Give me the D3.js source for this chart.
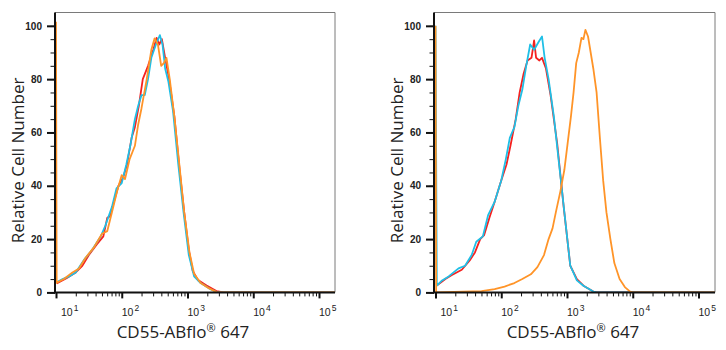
<!DOCTYPE html>
<html>
<head>
<meta charset="utf-8">
<script src="https://cdn.jsdelivr.net/npm/d3@7"></script>
<style>
  body { margin: 0; background: #fff; }
  svg { display: block; }
</style>
</head>
<body>
<script>
// Data: x as log10 of intensity, y as relative cell number
const leftRedX = [1.01, 1.16, 1.30, 1.40, 1.50, 1.62, 1.72, 1.78, 1.82, 1.87, 1.95, 2.02, 2.08, 2.15, 2.20, 2.26, 2.32, 2.40, 2.48, 2.53, 2.57, 2.61, 2.66, 2.72, 2.80, 2.88, 2.95, 3.02, 3.08, 3.16, 3.29, 3.44, 3.55, 5.25]
const leftRedY = [3.4, 5.3, 7.5, 10, 14, 18, 21, 28, 28.5, 33, 40, 43, 48, 58, 62, 70, 80, 85, 91, 95.5, 93, 95, 88, 80, 66, 46, 30, 16, 8, 4.6, 2.6, 0.5, 0, 0]

const leftCyanX = [1.01, 1.10, 1.20, 1.30, 1.42, 1.55, 1.68, 1.75, 1.85, 1.92, 2.00, 2.07, 2.13, 2.20, 2.25, 2.30, 2.35, 2.40, 2.45, 2.52, 2.58, 2.62, 2.66, 2.71, 2.78, 2.86, 2.94, 3.02, 3.10, 3.20, 3.35, 3.45, 5.25]
const leftCyanY = [3.8, 5, 6, 7.5, 12, 16, 21, 25, 32, 39, 41, 48, 55, 65, 70, 74, 74, 80, 88, 93, 96.5, 93, 84, 79, 68, 48, 30, 14, 6, 3.5, 1.2, 0, 0]

const leftOrangeX = [1.00, 1.01, 1.12, 1.25, 1.35, 1.45, 1.58, 1.70, 1.78, 1.85, 1.93, 2.00, 2.05, 2.12, 2.20, 2.25, 2.30, 2.38, 2.45, 2.50, 2.55, 2.60, 2.64, 2.68, 2.73, 2.80, 2.88, 2.95, 3.03, 3.10, 3.20, 3.33, 3.45, 5.25]
const leftOrangeY = [101.5, 3.6, 5, 7.5, 9, 13, 17, 22, 23, 30, 38, 44, 42.5, 50, 55, 63, 69, 80, 91, 95.3, 93, 85, 86, 88, 80, 66, 47, 30, 15, 7, 3.5, 1.5, 0, 0]

const rightRedX = [1.03, 1.15, 1.25, 1.40, 1.52, 1.60, 1.68, 1.74, 1.82, 1.90, 2.00, 2.08, 2.14, 2.22, 2.28, 2.34, 2.40, 2.46, 2.50, 2.53, 2.58, 2.62, 2.68, 2.75, 2.85, 2.95, 3.05, 3.15, 3.25, 3.40, 3.45, 5.25]
const rightRedY = [2.8, 5, 6.5, 8.5, 12, 15, 20, 21.5, 28, 34, 42, 48, 55, 65, 75, 82, 87, 88, 94.5, 88, 87, 88, 84, 74, 56, 32, 10, 5, 2.5, 0.3, 0, 0]

const rightCyanX = [1.00, 1.02, 1.10, 1.20, 1.35, 1.45, 1.55, 1.62, 1.72, 1.80, 1.90, 2.00, 2.07, 2.13, 2.20, 2.26, 2.32, 2.38, 2.44, 2.50, 2.57, 2.62, 2.66, 2.72, 2.80, 2.88, 2.96, 3.05, 3.15, 3.25, 3.40, 3.45, 5.25]
const rightCyanY = [100, 2.5, 4.5, 6, 9, 10, 14, 19, 21, 29, 34, 42, 50, 58, 62, 70, 76, 85, 93, 91, 94, 96, 88, 80, 66, 48, 30, 10, 4.5, 2.5, 0.3, 0, 0]

const rightOrangeX = [1.00, 1.01, 1.70, 1.90, 2.05, 2.20, 2.32, 2.45, 2.55, 2.65, 2.72, 2.78, 2.83, 2.90, 2.96, 3.01, 3.06, 3.10, 3.14, 3.18, 3.22, 3.25, 3.28, 3.32, 3.36, 3.40, 3.45, 3.50, 3.55, 3.60, 3.66, 3.72, 3.80, 3.88, 3.96, 4.00, 5.25]
const rightOrangeY = [100, 0, 0.5, 1.2, 2.2, 3.5, 5, 6.8, 9.5, 14, 20, 24, 30, 38, 46, 56, 66, 75, 86, 90, 95.5, 95, 98.5, 96, 90, 84, 75, 58, 42, 30, 20, 11, 5, 2, 0.3, 0, 0]

const xMajor = [1e1, 1e2, 1e3, 1e4, 1e5]
const xExponents = ['1', '2', '3', '4', '5']
const yMajor = [0, 20, 40, 60, 80, 100]
const yMinor = d3.range(0, 105, 5)
const xTitle = 'CD55-ABflo'
const xTitleEnd = ' 647'
const yTitle = 'Relative Cell Number'

const colors = { red: '#f5211f', cyan: '#1fbfe6', orange: '#ff9428' }

const svg = d3.select('body').append('svg')
    .attr('width', 726)
    .attr('height', 350)

const zip = (xs, ys) => xs.map((e, i) => [Math.pow(10, e), ys[i]])

const panels = [
    { left: 55, right: 335, x10: 56, x1e5: 319, titleX: 183,
      series: [[leftRedX, leftRedY, colors.red], [leftCyanX, leftCyanY, colors.cyan], [leftOrangeX, leftOrangeY, colors.orange]] },
    { left: 434, right: 715, x10: 435.5, x1e5: 698.5, titleX: 573,
      series: [[rightRedX, rightRedY, colors.red], [rightCyanX, rightCyanY, colors.cyan], [rightOrangeX, rightOrangeY, colors.orange]] }
]

const plotTop = 12.5
const plotBottom = 292.4

panels.forEach((p, pi) => {
    const x = d3.scaleLog().domain([1e1, 1e5]).range([p.x10, p.x1e5])
    const y = d3.scaleLinear().domain([0, 105]).range([plotBottom, plotTop])
    const g = svg.append('g')

    // clip to the plot box
    const clipId = 'clip' + pi
    g.append('clipPath').attr('id', clipId)
        .append('rect')
        .attr('x', p.left).attr('y', plotTop - 2)
        .attr('width', p.right - p.left).attr('height', plotBottom - plotTop + 2)

    // frame (top + right in grey)
    g.append('path')
        .attr('d', `M${p.left},${plotTop}H${p.right}V${plotBottom}`)
        .attr('fill', 'none')
        .attr('stroke', '#7a7a7a')
        .attr('stroke-width', 1)

    // lines
    const line = d3.line()
        .x(d => x(d[0]))
        .y(d => y(d[1]))
        .curve(d3.curveLinear)

    g.append('g').attr('clip-path', `url(#${clipId})`)
        .selectAll('path')
        .data(p.series)
        .join('path')
        .attr('d', d => line(zip(d[0], d[1])))
        .attr('fill', 'none')
        .attr('stroke', d => d[2])
        .attr('stroke-width', 1.8)
        .attr('stroke-linejoin', 'round')

    // x axis: minor ticks
    const minor = []
    for (let dec = 1; dec < 5; dec++) {
        for (let k = 2; k <= 9; k++) minor.push(k * Math.pow(10, dec))
    }
    for (let k = 2; k <= 9; k++) {
        if (k * 1e5 < x.invert(p.right)) minor.push(k * 1e5)
    }
    g.append('g')
        .attr('transform', `translate(0,${plotBottom})`)
        .call(d3.axisBottom(x).tickValues(minor).tickSize(4).tickFormat(''))
        .call(a => a.select('.domain').remove())
        .call(a => a.selectAll('line').attr('stroke', '#111').attr('stroke-width', 1))

    g.append('g')
        .attr('transform', `translate(0,${plotBottom})`)
        .call(d3.axisBottom(x).tickValues(xMajor).tickSize(6).tickFormat(''))
        .call(a => a.select('.domain').remove())
        .call(a => a.selectAll('line').attr('stroke', '#111').attr('stroke-width', 2))

    // x tick labels: 10 with superscript
    const lab = g.append('g')
        .selectAll('text')
        .data(xMajor)
        .join('text')
        .attr('x', (d, i) => x(d) + (i === 0 ? 5 : 0))
        .attr('y', 316)
        .attr('font-family', 'Liberation Sans, Arial, sans-serif')
        .attr('font-size', 10.5)
        .attr('fill', '#222')
    lab.append('tspan').text('10')
    lab.append('tspan')
        .attr('dx', 1)
        .attr('dy', -5)
        .attr('font-size', 8.5)
        .text((d, i) => xExponents[i])

    // y axis
    g.append('g')
        .attr('transform', `translate(${p.left},0)`)
        .call(d3.axisLeft(y).tickValues(yMinor).tickSize(4.5).tickFormat(''))
        .call(a => a.select('.domain').remove())
        .call(a => a.selectAll('line').attr('stroke', '#111').attr('stroke-width', 1))

    g.append('g')
        .attr('transform', `translate(${p.left},0)`)
        .call(d3.axisLeft(y).tickValues(yMajor).tickSize(8).tickPadding(5).tickFormat(d3.format('d')))
        .call(a => a.select('.domain').remove())
        .call(a => a.selectAll('line').attr('stroke', '#111').attr('stroke-width', 2))
        .call(a => a.selectAll('text')
            .attr('font-family', 'Liberation Sans, Arial, sans-serif')
            .attr('font-size', 10)
            .attr('font-weight', 'bold')
            .attr('fill', '#222'))

    // axis lines (black)
    g.append('path')
        .attr('d', `M${p.left},${plotTop}V${plotBottom}H${p.right}`)
        .attr('fill', 'none')
        .attr('stroke', '#111')
        .attr('stroke-width', 2)

    // titles
    const xt = g.append('text')
        .attr('x', p.titleX)
        .attr('y', 338)
        .attr('text-anchor', 'middle')
        .attr('font-family', 'Open Sans, sans-serif')
        .attr('font-size', 17)
        .attr('fill', '#222')
    xt.append('tspan').text(xTitle)
    xt.append('tspan').attr('font-size', 11).attr('dy', -6).text('®')
    xt.append('tspan').attr('dy', 6).text(xTitleEnd)

    g.append('text')
        .attr('transform', `translate(${p.left - 31},${(plotTop + plotBottom) / 2 + 8}) rotate(-90)`)
        .attr('text-anchor', 'middle')
        .attr('font-family', 'Open Sans, sans-serif')
        .attr('font-size', 17)
        .attr('fill', '#222')
        .text(yTitle)
})
</script>
</body>
</html>
